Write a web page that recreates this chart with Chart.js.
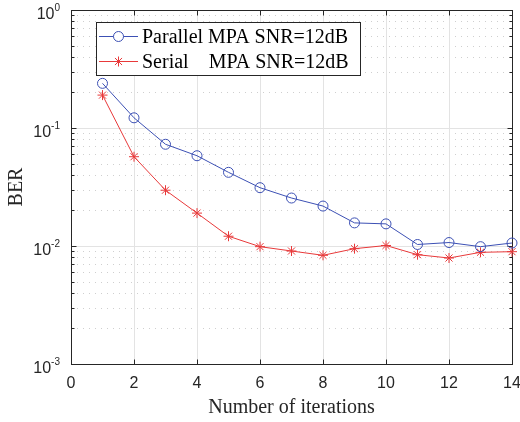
<!DOCTYPE html>
<html>
<head>
<meta charset="utf-8">
<script src="https://cdn.jsdelivr.net/npm/chart.js@4"></script>
<style>
  html, body { margin: 0; padding: 0; background: #fff; }
  #wrap { width: 520px; height: 422px; position: relative; }
</style>
</head>
<body>
<div id="wrap"><canvas id="c" width="520" height="422"></canvas></div>
<script>
// ---- data ----
const iterations = [1, 2, 3, 4, 5, 6, 7, 8, 9, 10, 11, 12, 13, 14];
const parallelBER = [0.239, 0.122, 0.0728, 0.0582, 0.0421, 0.0312, 0.0255, 0.0218, 0.0157, 0.0154, 0.0103, 0.0107, 0.00987, 0.0106];
const serialBER = [0.190, 0.0571, 0.0297, 0.0190, 0.0121, 0.00987, 0.00907, 0.00834, 0.00949, 0.0101, 0.00844, 0.00791, 0.00884, 0.00895];
const seriesLabels = ['Parallel MPA SNR=12dB', 'Serial    MPA SNR=12dB'];
const xTickValues = [0, 2, 4, 6, 8, 10, 12, 14];
const yTickExponents = [0, -1, -2, -3];
const xTitle = 'Number of iterations';
const yTitle = 'BER';

const BLUE = '#3c50b4';
const RED = '#e8393a';

const axesPlugin = {
  id: 'matlabAxes',
  beforeDatasetsDraw(chart) {
    const ctx = chart.ctx;
    const xs = chart.scales.x, ys = chart.scales.y;
    const a = chart.chartArea;
    ctx.save();
    // minor y grid (dotted)
    ctx.strokeStyle = '#cfcfcf';
    ctx.lineWidth = 1;
    ctx.setLineDash([1, 5]);
    for (let e = -3; e < 0; e++) {
      for (let m = 2; m <= 9; m++) {
        const y = Math.round(ys.getPixelForValue(m * Math.pow(10, e))) + 0.5;
        ctx.beginPath(); ctx.moveTo(a.left, y); ctx.lineTo(a.right, y); ctx.stroke();
      }
    }
    ctx.setLineDash([]);
    // major grid
    ctx.strokeStyle = '#e3e3e3';
    yTickExponents.forEach(e => {
      const y = Math.round(ys.getPixelForValue(Math.pow(10, e))) + 0.5;
      ctx.beginPath(); ctx.moveTo(a.left, y); ctx.lineTo(a.right, y); ctx.stroke();
    });
    xTickValues.forEach(v => {
      const x = Math.round(xs.getPixelForValue(v)) + 0.5;
      ctx.beginPath(); ctx.moveTo(x, a.top); ctx.lineTo(x, a.bottom); ctx.stroke();
    });
    // box
    ctx.strokeStyle = '#262626';
    ctx.lineWidth = 1;
    const L = Math.round(a.left) + 0.5, R = Math.round(a.right) + 0.5, T = Math.round(a.top) + 0.5, B = Math.round(a.bottom) + 0.5;
    ctx.strokeRect(L, T, R - L, B - T);
    // ticks
    ctx.beginPath();
    xTickValues.forEach(v => {
      const x = Math.round(xs.getPixelForValue(v)) + 0.5;
      ctx.moveTo(x, B); ctx.lineTo(x, B - 5);
      ctx.moveTo(x, T); ctx.lineTo(x, T + 5);
    });
    yTickExponents.forEach(e => {
      const y = Math.round(ys.getPixelForValue(Math.pow(10, e))) + 0.5;
      ctx.moveTo(L, y); ctx.lineTo(L + 5, y);
      ctx.moveTo(R, y); ctx.lineTo(R - 5, y);
    });
    for (let e = -3; e < 0; e++) {
      for (let m = 2; m <= 9; m++) {
        const y = Math.round(ys.getPixelForValue(m * Math.pow(10, e))) + 0.5;
        ctx.moveTo(L, y); ctx.lineTo(L + 3, y);
        ctx.moveTo(R, y); ctx.lineTo(R - 3, y);
      }
    }
    ctx.stroke();
    // tick labels
    ctx.fillStyle = '#262626';
    ctx.font = '16px "Liberation Sans", Arial, sans-serif';
    ctx.textAlign = 'center';
    ctx.textBaseline = 'middle';
    xTickValues.forEach(v => {
      ctx.fillText(String(v), xs.getPixelForValue(v), a.bottom + 20);
    });
    yTickExponents.forEach(e => {
      const y = ys.getPixelForValue(Math.pow(10, e));
      const sup = String(e);
      ctx.font = '10px "Liberation Sans", Arial, sans-serif';
      const sw = ctx.measureText(sup).width;
      ctx.textAlign = 'right';
      ctx.textBaseline = 'middle';
      ctx.fillText(sup, a.left - 11, y - 2);
      ctx.font = '16px "Liberation Sans", Arial, sans-serif';
      ctx.fillText('10', a.left - 11 - sw, y + 4.5);
    });
    // axis titles
    ctx.font = '20px "Liberation Serif", "Times New Roman", serif';
    ctx.textAlign = 'center';
    ctx.textBaseline = 'middle';
    ctx.fillText(xTitle, (a.left + a.right) / 2, a.bottom + 44);
    ctx.save();
    ctx.translate(17, (a.top + a.bottom) / 2);
    ctx.rotate(-Math.PI / 2);
    ctx.fillText(yTitle, 0, 0);
    ctx.restore();
    ctx.restore();
  },
  afterDatasetsDraw(chart) {
    const ctx = chart.ctx;
    ctx.save();
    const bx = 96.5, by = 22.5, bw = 264, bh = 53;
    ctx.fillStyle = '#fff';
    ctx.fillRect(bx, by, bw, bh);
    ctx.strokeStyle = '#262626';
    ctx.lineWidth = 1;
    ctx.strokeRect(bx, by, bw, bh);
    const rows = [36.5, 61.5];
    ctx.font = '20px "Liberation Serif", "Times New Roman", serif';
    ctx.textBaseline = 'middle';
    ctx.textAlign = 'left';
    chart.data.datasets.forEach((ds, i) => {
      const y = rows[i];
      ctx.strokeStyle = ds.borderColor;
      ctx.lineWidth = 1;
      ctx.beginPath(); ctx.moveTo(99, y); ctx.lineTo(138, y); ctx.stroke();
      Chart.helpers.drawPoint(ctx, {
        pointStyle: ds.pointStyle, radius: ds.pointRadius, borderWidth: 1, rotation: 0
      }, 118.5, y);
      ctx.fillStyle = '#000';
      ctx.fillText(ds.label, 142, y + 1);
    });
    ctx.restore();
  }
};

new Chart(document.getElementById('c'), {
  type: 'line',
  data: {
    datasets: [
      {
        label: seriesLabels[0],
        data: iterations.map((x, i) => ({ x: x, y: parallelBER[i] })),
        borderColor: BLUE, backgroundColor: 'rgba(0,0,0,0)',
        pointStyle: 'circle', pointRadius: 5, pointBorderWidth: 1,
        pointBorderColor: BLUE, pointBackgroundColor: 'rgba(0,0,0,0)',
        borderWidth: 1, tension: 0, clip: false
      },
      {
        label: seriesLabels[1],
        data: iterations.map((x, i) => ({ x: x, y: serialBER[i] })),
        borderColor: RED, backgroundColor: 'rgba(0,0,0,0)',
        pointStyle: 'star', pointRadius: 5, pointBorderWidth: 1,
        pointBorderColor: RED, pointBackgroundColor: RED,
        borderWidth: 1, tension: 0, clip: false
      }
    ]
  },
  options: {
    responsive: false,
    animation: false,
    layout: { padding: { left: 71, top: 10, right: 8, bottom: 58 } },
    plugins: { legend: { display: false }, tooltip: { enabled: false } },
    scales: {
      x: { type: 'linear', min: 0, max: 14, display: false },
      y: { type: 'logarithmic', min: 0.001, max: 1, display: false }
    }
  },
  plugins: [axesPlugin]
});
</script>
</body>
</html>
